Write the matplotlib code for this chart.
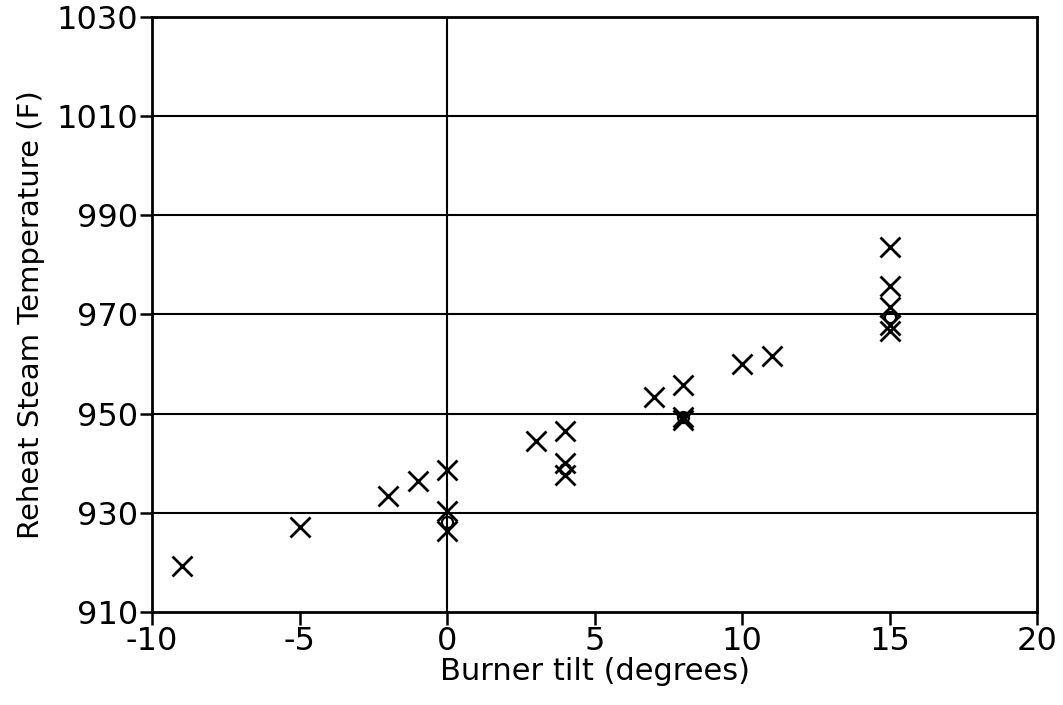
import matplotlib.pyplot as plt

plt.rcParams['font.family'] = ['DejaVu Sans']
plt.rcParams['axes.unicode_minus'] = False

# Measured points (crosses)
tilt = [-9, -5, -2, -1, 0, 0, 0, 3, 4, 4, 4, 7, 8, 8, 8, 10, 11, 15, 15, 15, 15, 15]
temp = [919.3, 927.2, 933.3, 936.5, 938.7, 930.3, 926.4, 944.4, 946.5, 940.0, 937.6,
        953.4, 955.7, 949.4, 948.8, 960.0, 961.7, 983.5, 975.7, 971.4, 967.8, 966.6]

# Averages at each tilt setting (open circles)
avg_tilt = [0, 4, 8, 15]
avg_temp = [928.1, 938.8, 949.3, 969.5]

x_ticks = [-10, -5, 0, 5, 10, 15, 20]
y_ticks = [910, 930, 950, 970, 990, 1010, 1030]

fig = plt.figure(figsize=(10.63, 7.05), dpi=100)
ax = fig.add_axes([0.143, 0.132, 0.833, 0.844])

# horizontal grid plus the zero-tilt line
for yv in y_ticks[1:-1]:
    ax.axhline(yv, color='black', linewidth=1.5, zorder=1)
ax.axvline(0, color='black', linewidth=1.5, zorder=1)

ax.plot(tilt, temp, linestyle='none', marker='x', markersize=14,
        markeredgewidth=2.0, color='black', zorder=3)
ax.plot(avg_tilt, avg_temp, linestyle='none', marker='o', markersize=8,
        markerfacecolor='none', markeredgewidth=1.6, markeredgecolor='black', zorder=3)

ax.set_xlim(-10, 20)
ax.set_ylim(910, 1030)
ax.set_xticks(x_ticks)
ax.set_yticks(y_ticks)
ax.tick_params(direction='out', length=9, width=1.8, labelsize=23, pad=1,
               top=False, right=False)
for s in ax.spines.values():
    s.set_linewidth(2)

ax.set_xlabel('Burner tilt (degrees)', fontsize=22, labelpad=0)
ax.set_ylabel('Reheat Steam Temperature (F)', fontsize=21, labelpad=8)

fig.savefig('out.png', dpi=100)
